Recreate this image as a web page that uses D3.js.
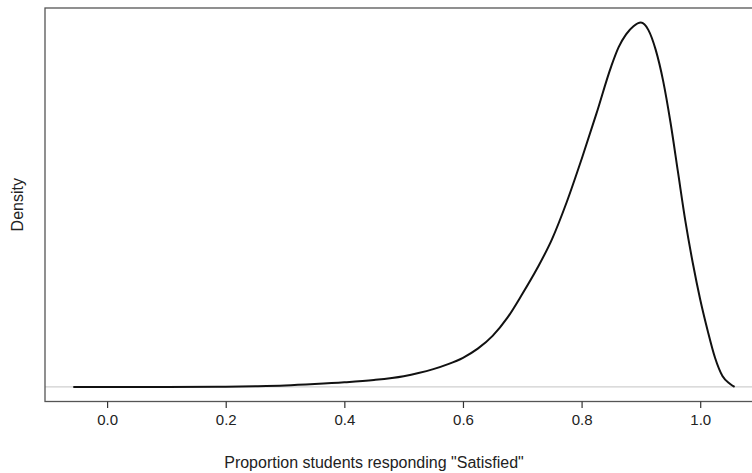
<!DOCTYPE html>
<html>
<head>
<meta charset="utf-8">
<script src="https://cdn.jsdelivr.net/npm/d3@7"></script>
<style>
  html, body { margin: 0; padding: 0; background: #fff; }
  svg { display: block; }
  text { font-family: "Liberation Sans", Arial, sans-serif; fill: #222; }
</style>
</head>
<body>
<svg id="chart" width="752" height="473"></svg>
<script>
// Proportion values (x) and estimated kernel density (y)
const proportion = [-0.057, 0.0, 0.1, 0.2, 0.25, 0.3, 0.35, 0.4, 0.45, 0.5, 0.525, 0.55, 0.575, 0.6, 0.625, 0.65, 0.675, 0.7, 0.725, 0.75, 0.775, 0.8, 0.825, 0.85, 0.8625, 0.875, 0.8875, 0.9, 0.9125, 0.925, 0.9375, 0.95, 0.9625, 0.975, 0.9875, 1.0, 1.0125, 1.025, 1.0375, 1.05, 1.058];
const density = [0.0, 0.0, 0.0, 0.003, 0.008, 0.016, 0.031, 0.05, 0.076, 0.118, 0.152, 0.195, 0.25, 0.32, 0.42, 0.56, 0.76, 1.02, 1.30, 1.62, 2.03, 2.50, 3.0, 3.52, 3.73, 3.87, 3.96, 4.0, 3.92, 3.70, 3.36, 2.90, 2.36, 1.82, 1.36, 0.96, 0.62, 0.32, 0.12, 0.035, 0.0];
const xTicks = [0.0, 0.2, 0.4, 0.6, 0.8, 1.0];
const xLabel = 'Proportion students responding "Satisfied"';
const yLabel = "Density";

const svg = d3.select("#chart");
const mLeft = 45, mTop = 8, mRight = 761, mBottom = 401.5;

const x = d3.scaleLinear().domain([-0.1047, 1.1025]).range([mLeft, mRight]);
const dmax = d3.max(density);
const y = d3.scaleLinear().domain([-0.04 * dmax, 1.04 * dmax]).range([mBottom, mTop]);

// zero reference line
svg.append("line")
  .attr("x1", mLeft).attr("x2", mRight)
  .attr("y1", y(0)).attr("y2", y(0))
  .attr("stroke", "#cfcfcf").attr("stroke-width", 1.2);

// density curve
const pts = proportion.map((p, i) => [p, density[i]]);
svg.append("path")
  .datum(pts)
  .attr("fill", "none")
  .attr("stroke", "#111")
  .attr("stroke-width", 2)
  .attr("d", d3.line().x(d => x(d[0])).y(d => y(d[1])).curve(d3.curveMonotoneX));

// box
svg.append("rect")
  .attr("x", mLeft).attr("y", mTop)
  .attr("width", mRight - mLeft).attr("height", mBottom - mTop)
  .attr("fill", "none").attr("stroke", "#555").attr("stroke-width", 1.3);

// x axis
const ax = svg.append("g").attr("transform", `translate(0,${mBottom})`)
  .call(d3.axisBottom(x).tickValues(xTicks).tickFormat(d3.format(".1f")).tickSize(6.5).tickPadding(6));
ax.select(".domain").remove();
ax.selectAll(".tick line").attr("stroke", "#333").attr("stroke-width", 1.2);
ax.selectAll(".tick text")
  .style("font-family", '"Liberation Sans", Arial, sans-serif')
  .style("font-size", "15px").attr("fill", "#333");

// axis titles
svg.append("text")
  .attr("x", 374).attr("y", 468)
  .attr("text-anchor", "middle")
  .style("font-size", "16px")
  .text(xLabel);

svg.append("text")
  .attr("transform", `translate(23,${(mTop + mBottom) / 2}) rotate(-90)`)
  .attr("text-anchor", "middle")
  .style("font-size", "16px")
  .text(yLabel);
</script>
</body>
</html>
